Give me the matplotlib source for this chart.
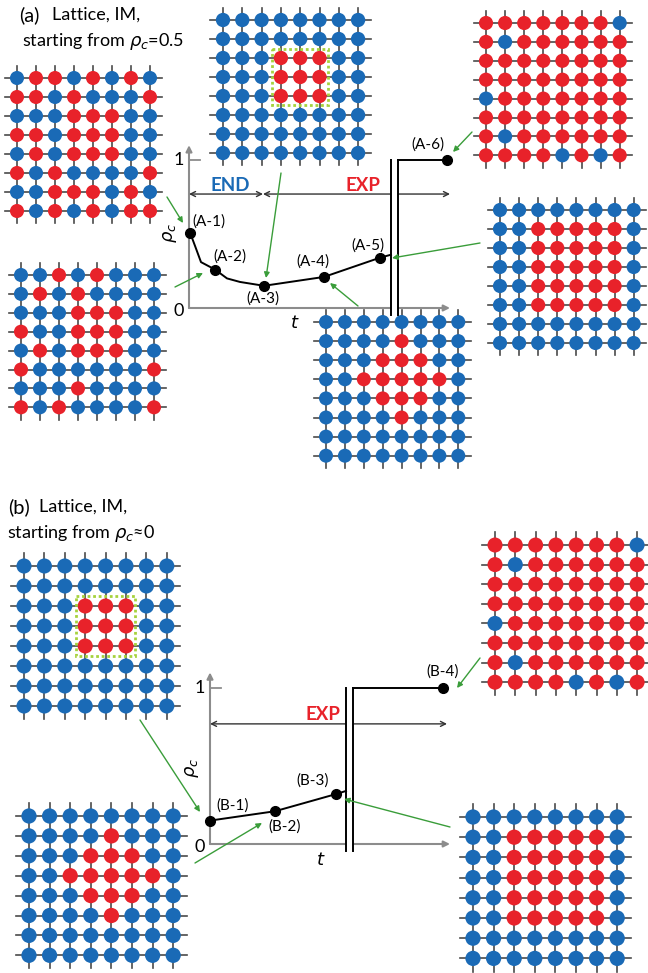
import matplotlib.pyplot as plt
import numpy as np
from matplotlib.patches import Rectangle

plt.rcParams['font.family'] = ['Lato', 'DejaVu Sans']
plt.rcParams['mathtext.fontset'] = 'dejavusans'

W, H = 648, 973
RED = '#e8222a'
BLUE = '#1a6ab6'
GREEN = '#3a9d3a'
GRAY = '#8c8c8c'

# 8x8 spin snapshots, '1' = red site, '0' = blue site
latt_a1 = ["01101010", "11010001", "00011100", "11011100",
           "01011100", "10100001", "00111010", "10101011"]
latt_a2 = ["00101000", "01010000", "00011100", "10011100",
           "01011100", "10000001", "00010000", "10100001"]
latt_seed = ["00000000", "00000000", "00011100", "00011100",
             "00011100", "00000000", "00000000", "00000000"]
latt_diamond = ["00000000", "00001000", "00011100", "00111110",
                "00011100", "00001000", "00000000", "00000000"]
latt_block = ["00000000", "00111110", "00111110", "00111110",
              "00111110", "00111110", "00000000", "00000000"]
latt_full = ["11111110", "10111111", "11111111", "11111111",
             "01111111", "11111111", "10111111", "11110101"]

# rho_c(t) for panel (a)
t_a = [0.05, 1.3, 3.75, 6.75, 9.55, 12.9]
rho_a = [0.51, 0.26, 0.15, 0.21, 0.34, 1.0]
labels_a = ["(A-1)", "(A-2)", "(A-3)", "(A-4)", "(A-5)", "(A-6)"]
curve_t_a = [0.05, 0.3, 0.6, 1.3, 1.9, 2.55, 3.75, 6.75, 9.55, 10.1]
curve_rho_a = [0.51, 0.42, 0.31, 0.26, 0.20, 0.176, 0.15, 0.21, 0.34, 0.36]
break_a = (10.1, 10.45)

# rho_c(t) for panel (b)
t_b = [0.0, 3.25, 6.3, 11.65]
rho_b = [0.15, 0.21, 0.32, 1.0]
labels_b = ["(B-1)", "(B-2)", "(B-3)", "(B-4)"]
curve_t_b = [0.0, 3.25, 6.3, 6.8]
curve_rho_b = [0.15, 0.21, 0.32, 0.34]
break_b = (6.8, 7.15)

fig = plt.figure(figsize=(W / 100, H / 100), dpi=100)


def overlay():
    ax = fig.add_axes([0, 0, 1, 1])
    ax.set_xlim(0, W)
    ax.set_ylim(H, 0)
    ax.axis('off')
    ax.patch.set_visible(False)
    return ax


bg = overlay()


def draw_lattice(ax, rows, x0, y0, dx, dy, box=False):
    grid = np.array([[int(c) for c in r] for r in rows])
    n, m = grid.shape
    xs = x0 + dx * np.arange(m)
    ys = y0 + dy * np.arange(n)
    for y in ys:
        ax.plot([xs[0] - 0.65 * dx, xs[-1] + 0.65 * dx], [y, y],
                color='#4a4a4a', lw=1.2, zorder=1)
    for x in xs:
        ax.plot([x, x], [ys[0] - 0.65 * dy, ys[-1] + 0.65 * dy],
                color='#4a4a4a', lw=1.2, zorder=1)
    X, Y = np.meshgrid(xs, ys)
    cols = np.where(grid.ravel() == 1, RED, BLUE)
    ax.scatter(X.ravel(), Y.ravel(), s=(0.74 * dx * 0.72) ** 2, c=cols,
               linewidths=0, zorder=2)
    if box:
        cx, cy, h = xs[4], ys[3], 1.45 * dx
        ax.add_patch(Rectangle((cx - h, cy - h), 2 * h, 2 * h, fill=False,
                               ec='#a6d23c', lw=2, ls=(0, (1, 1)), zorder=3))


draw_lattice(bg, latt_a1, 17, 78, 19.0, 19.0)
draw_lattice(bg, latt_seed, 223, 20, 19.3, 19.0, box=True)
draw_lattice(bg, latt_full, 486, 23, 19.1, 18.9)
draw_lattice(bg, latt_a2, 21, 275, 19.0, 18.9)
draw_lattice(bg, latt_block, 500, 210, 19.1, 19.0)
draw_lattice(bg, latt_diamond, 326, 322, 18.9, 19.1)
draw_lattice(bg, latt_seed, 24, 566, 20.4, 20.0, box=True)
draw_lattice(bg, latt_full, 495, 545, 20.3, 19.6)
draw_lattice(bg, latt_diamond, 29, 816, 20.6, 19.9)
draw_lattice(bg, latt_block, 473, 817, 20.6, 20.2)

# panel titles
bg.text(19, 15, "(a)", fontsize=14.5, va='center', ha='left')
bg.text(52, 15, "Lattice, IM,", fontsize=13, va='center', ha='left')
bg.text(22, 41, r"starting from $\rho_c$=0.5", fontsize=13, va='center', ha='left')
bg.text(8, 507, "(b)", fontsize=14.5, va='center', ha='left')
bg.text(39, 507, "Lattice, IM,", fontsize=13, va='center', ha='left')
bg.text(7, 534, r"starting from $\rho_c$≈0", fontsize=13, va='center', ha='left')


def chart_axes(origin, sx, sy, xlim, ylim):
    ox, oy = origin
    left = ox + xlim[0] * sx
    right = ox + xlim[1] * sx
    bottom = oy - ylim[0] * sy
    top = oy - ylim[1] * sy
    ax = fig.add_axes([left / W, 1 - bottom / H, (right - left) / W, (bottom - top) / H])
    ax.set_xlim(*xlim)
    ax.set_ylim(*ylim)
    ax.axis('off')
    ax.patch.set_visible(False)
    return ax


def draw_chart(ax, t, rho, labels, offsets, ct, crho, brk, t_end, arrows,
               tags, lab_pos):
    # axes with arrow heads
    ax.annotate('', xy=(t_end, 0), xytext=(0, 0), zorder=2,
                arrowprops=dict(arrowstyle='-|>', color=GRAY, lw=1.5,
                                mutation_scale=9, shrinkA=0, shrinkB=0))
    ax.annotate('', xy=(0, 1.1), xytext=(0, 0), zorder=2,
                arrowprops=dict(arrowstyle='-|>', color=GRAY, lw=1.5,
                                mutation_scale=9, shrinkA=0, shrinkB=0))
    ax.plot([0, 0.55], [1, 1], color=GRAY, lw=1.3, zorder=2)
    ax.text(-0.5, 1.0, "1", fontsize=13, ha='center', va='center')
    ax.text(-0.5, -0.02, "0", fontsize=13, ha='center', va='center')
    ax.text(lab_pos[0][0], lab_pos[0][1], r"$\rho_c$", fontsize=13,
            rotation=90, ha='center', va='center')
    ax.text(lab_pos[1][0], lab_pos[1][1], r"$t$", fontsize=13,
            ha='center', va='center')
    # regime arrows
    for (a, b) in arrows:
        ax.annotate('', xy=(b, 0.77), xytext=(a, 0.77), zorder=2,
                    arrowprops=dict(arrowstyle='<->', color='#333333', lw=1.0,
                                    mutation_scale=9, shrinkA=0, shrinkB=0))
    for txt, x, c in tags:
        ax.text(x, 0.83, txt, fontsize=13.5, fontweight='bold', color=c,
                ha='center', va='center')
    # axis break
    ax.fill_betweenx([-0.05, 1.0], brk[0], brk[1], color='white', lw=0, zorder=3)
    for x in brk:
        ax.plot([x, x], [-0.047, 1.0], color='black', lw=1.4, zorder=4)
    ax.plot(ct, crho, color='black', lw=1.4, zorder=5)
    ax.plot([brk[1], t[-1]], [1.0, rho[-1]], color='black', lw=1.4, zorder=5)
    ax.plot(t, rho, 'o', color='black', ms=7, zorder=6)
    for x, y, s, off in zip(t, rho, labels, offsets):
        ax.annotate(s, (x, y), xytext=off, textcoords='offset points',
                    fontsize=11, ha='center', va='center')


ax_a = chart_axes((189, 308), 20, 148, (-1.3, 13.4), (-0.15, 1.15))
draw_chart(ax_a, t_a, rho_a, labels_a,
           [(13.5, 8), (10.5, 9.4), (-0.7, -9.5), (-8, 10.8), (-8.6, 8.6), (-13.7, 10.8)],
           curve_t_a, curve_rho_a, break_a, 13.05,
           [(0, 3.7), (3.7, 13.05)],
           [("END", 2.05, '#1a6ab6'), ("EXP", 8.7, RED)],
           [(-0.95, 0.51), (5.3, -0.1)])

ax_b = chart_axes((210, 844), 20, 156, (-1.3, 12.2), (-0.15, 1.15))
draw_chart(ax_b, t_b, rho_b, labels_b,
           [(16.5, 10.8), (7, -10.8), (-17, 10), (0, 12)],
           curve_t_b, curve_rho_b, break_b, 12.0,
           [(0, 11.85)],
           [("EXP", 5.65, RED)],
           [(-0.9, 0.49), (5.55, -0.1)])

# green pointers from snapshots to curve points, drawn above everything
top = overlay()
pointers = [((167, 197), (183, 223)), ((175, 287), (203, 273)),
            ((281, 173), (266, 278)), ((358, 306), (330, 283)),
            ((480, 243), (392, 258)), ((472, 132), (453, 152)),
            ((140, 720), (200, 812)), ((195, 863), (262, 823)),
            ((450, 827), (344, 799)), ((480, 658), (457, 688))]
for start, end in pointers:
    top.annotate('', xy=end, xytext=start,
                 arrowprops=dict(arrowstyle='-|>', color=GREEN, lw=1.0,
                                 mutation_scale=8, shrinkA=0, shrinkB=0))

fig.savefig("out.png", dpi=100)
